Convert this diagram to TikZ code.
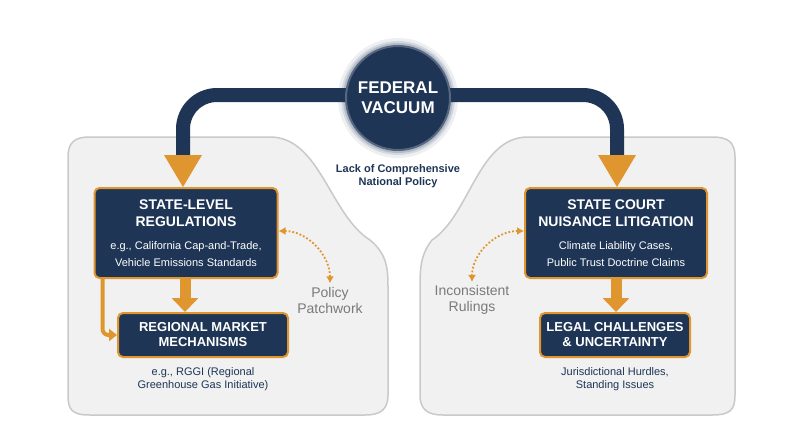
\documentclass[tikz,border=0pt]{standalone}
\usepackage{fontspec}
\setmainfont{Liberation Sans}
\usetikzlibrary{arrows.meta,positioning}
\definecolor{navy}{HTML}{1E3556}
\definecolor{gold}{HTML}{E0962E}
\definecolor{panel}{HTML}{F1F1F1}
\definecolor{panelline}{HTML}{C9C9C9}
\definecolor{note}{HTML}{7A7A7A}
\newcommand{\subfont}{\normalfont\fontsize{11}{13}\selectfont}
\tikzset{
  box/.style={draw=gold, line width=2pt, fill=navy, rounded corners=5pt, text=white, align=center, inner sep=2pt},
  bigtitle/.style={font=\bfseries\fontsize{14}{17}\selectfont},
  smalltitle/.style={font=\bfseries\fontsize{13}{15}\selectfont},
  navyline/.style={draw=navy, line width=14pt, rounded corners=34pt},
  goldhead/.style={fill=gold},
  thickarrow/.style={draw=gold, line width=11pt, -{Triangle[length=14pt,width=26pt]}},
  sidearrow/.style={draw=gold, line width=4pt, rounded corners=6pt, -{Triangle[length=8pt,width=12pt]}},
  dotarrow/.style={draw=gold, line width=1.8pt, dotted, {Latex[length=7pt,width=8pt]}-{Latex[length=7pt,width=8pt]}},
  caption/.style={text=navy, align=center, font=\fontsize{11}{13}\selectfont},
  sidenote/.style={text=note, align=center, font=\fontsize{14}{16}\selectfont},
}
\begin{document}
\begin{tikzpicture}[x=1pt, y=-1pt]
\useasboundingbox (0,0) rectangle (800,447);

% panels
\draw[fill=panel, draw=panelline, line width=1.5pt]
  (90,137) -- (270,137) .. controls (320,137) and (330,215) .. (370,240)
  .. controls (388,255) and (388,270) .. (388,290) -- (388,395)
  .. controls (388,410) and (380,415) .. (365,415) -- (90,415)
  .. controls (72,415) and (68,410) .. (68,395) -- (68,157)
  .. controls (68,142) and (75,137) .. (90,137) -- cycle;
\draw[fill=panel, draw=panelline, line width=1.5pt]
  (712,137) -- (528,137) .. controls (478,137) and (470,215) .. (432,240)
  .. controls (420,255) and (420,270) .. (420,290) -- (420,395)
  .. controls (420,410) and (428,415) .. (443,415) -- (712,415)
  .. controls (730,415) and (735,410) .. (735,395) -- (735,157)
  .. controls (735,142) and (728,137) .. (712,137) -- cycle;

% federal vacuum
\coordinate (lhead) at (183,157);
\coordinate (rhead) at (617,157);
\draw[navyline] (398,95) -| (lhead);
\draw[navyline] (398,95) -| (rhead);
\fill[goldhead] (164,155) -- (202,155) -- (183,187) -- cycle;
\fill[goldhead] (598,155) -- (636,155) -- (617,187) -- cycle;
\foreach \r/\o in {60/0.08, 57/0.12, 55/0.18}
  \fill[navy, opacity=\o] (398,98) circle (\r);
\node[circle, fill=navy, draw=navy!75!white, line width=2pt, minimum size=104pt, text=white, align=center,
  font=\bfseries\fontsize{17}{20}\selectfont] (fed) at (398,98) {FEDERAL\\VACUUM};
\node[caption, font=\bfseries\fontsize{11}{13}\selectfont, below=10pt of fed] (lack) {Lack of Comprehensive\\National Policy};

% left side
\node[box, bigtitle, minimum width=183pt, minimum height=90pt] (state) at (186,233) {STATE-LEVEL\\REGULATIONS\\[6pt]\subfont e.g., California Cap-and-Trade,\\\subfont Vehicle Emissions Standards};
\node[box, smalltitle, minimum width=170pt, minimum height=44pt] (regional) at (203,335) {REGIONAL MARKET\\MECHANISMS};
\node[caption, below=6pt of regional] (rggi) {e.g., RGGI (Regional\\Greenhouse Gas Initiative)};
\draw[thickarrow] ([xshift=-1pt]state.south) -- ([xshift=-18pt]regional.north);
\draw[sidearrow] ([xshift=9pt]state.south west) |- (regional.west);
\node[sidenote] (patch) at (330,300) {Policy\\Patchwork};
\draw[dotarrow] ([yshift=2pt]state.east) to[out=0, in=90] (patch.north);

% right side
\node[box, bigtitle, minimum width=182pt, minimum height=90pt] (court) at (616,233) {STATE COURT\\NUISANCE LITIGATION\\[6pt]\subfont Climate Liability Cases,\\\subfont Public Trust Doctrine Claims};
\node[box, smalltitle, minimum width=150pt, minimum height=44pt] (legal) at (615,335) {LEGAL CHALLENGES\\\& UNCERTAINTY};
\node[caption, below=6pt of legal] (hurdles) {Jurisdictional Hurdles,\\Standing Issues};
\draw[thickarrow] (court.south) -- ([xshift=1pt]legal.north);
\node[sidenote] (rulings) at (472,300) {Inconsistent\\Rulings};
\draw[dotarrow] ([yshift=2pt]court.west) to[out=180, in=90] (rulings.north);
\end{tikzpicture}
\end{document}
